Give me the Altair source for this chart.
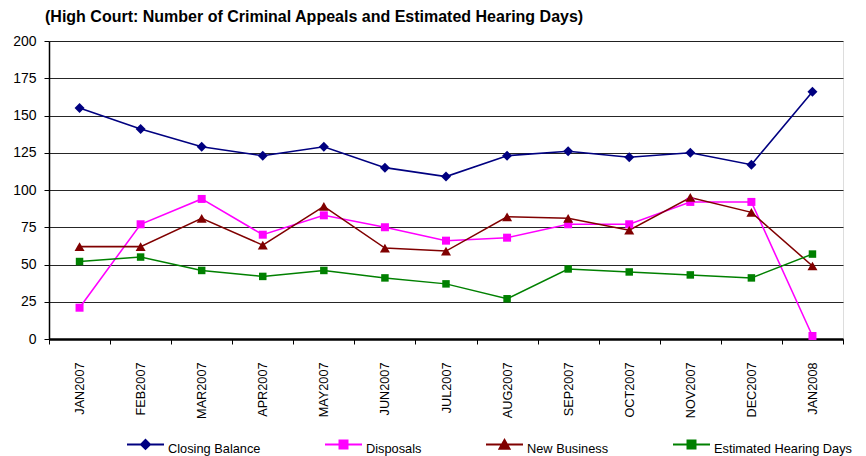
import altair as alt
import pandas as pd

months = ["JAN2007", "FEB2007", "MAR2007", "APR2007", "MAY2007", "JUN2007", "JUL2007",
          "AUG2007", "SEP2007", "OCT2007", "NOV2007", "DEC2007", "JAN2008"]
closing_balance = [155, 141, 129, 123, 129, 115, 109, 123, 126, 122, 125, 117, 166]
disposals = [21, 77, 94, 70, 83, 75, 66, 68, 77, 77, 92, 92, 2]
new_business = [62, 62, 81, 63, 89, 61, 59, 82, 81, 73, 95, 85, 49]
hearing_days = [52, 55, 46, 42, 46, 41, 37, 27, 47, 45, 43, 41, 57]

series_names = ["Closing Balance", "Disposals", "New Business", "Estimated Hearing Days"]
series_values = [closing_balance, disposals, new_business, hearing_days]
series_colors = ["#000080", "#FF00FF", "#800000", "#008000"]
line_widths = [1.6, 1.5, 1.5, 1.0]
point_shapes = ["diamond", "square", "triangle-up", "square"]
point_sizes = [100, 64, 100, 56]

# legend symbols: short line with the marker on it (unit box -1..1)
legend_shapes = [
    "M-1,-0.24H1M0,-0.483L0.243,-0.24L0,0.003L-0.243,-0.24Z",
    "M-1,-0.24H1M-0.216,-0.456H0.216V-0.024H-0.216Z",
    "M-1,-0.24H1M0,-0.48L0.27,0L-0.27,0Z",
    "M-1,-0.24H1M-0.216,-0.456H0.216V-0.024H-0.216Z",
]

rows = []
for name, vals in zip(series_names, series_values):
    for m, v in zip(months, vals):
        rows.append({"month": m, "value": v, "series": name})
df = pd.DataFrame(rows)

FONT = "Liberation Sans"

x_enc = alt.X(
    "month:N",
    sort=months,
    scale=alt.Scale(type="band", paddingInner=0, paddingOuter=0),
    axis=alt.Axis(
        title=None, labelAngle=270, tickBand="extent", tickSize=5, labelPadding=18,
        labelFontSize=12.7, labelFont=FONT, labelColor="#000000",
        domainColor="#000000", domainWidth=2.5, tickColor="#000000", tickWidth=1,
        grid=False,
    ),
)
y_enc = alt.Y(
    "value:Q",
    scale=alt.Scale(domain=[0, 200], nice=False),
    axis=alt.Axis(
        title=None, values=list(range(0, 201, 25)), tickSize=5, labelPadding=8,
        labelFontSize=14, labelFont=FONT, labelColor="#000000",
        domainColor="#000000", domainWidth=1.5, tickColor="#000000", tickWidth=1,
        grid=True, gridColor="#000000", gridWidth=1, gridOpacity=0.85,
    ),
)

color_scale = alt.Scale(domain=series_names, range=series_colors)

lines = alt.Chart(df).mark_line().encode(
    x=x_enc,
    y=y_enc,
    color=alt.Color("series:N", scale=color_scale, legend=None),
    strokeWidth=alt.StrokeWidth("series:N", scale=alt.Scale(domain=series_names, range=line_widths), legend=None),
)

point_layers = []
for name, shp, sz, col in zip(series_names, point_shapes, point_sizes, series_colors):
    point_layers.append(
        alt.Chart(df).transform_filter(alt.datum.series == name)
        .mark_point(filled=True, opacity=1, shape=shp, size=sz, color=col)
        .encode(x=x_enc, y=y_enc)
    )

def make_legend():
    return alt.Legend(
        title=None, orient="none", direction="horizontal", columns=4,
        legendX=77, legendY=388, columnPadding=60, labelOffset=3,
        labelFontSize=12.8, labelFont=FONT, labelColor="#000000",
        symbolSize=1369, symbolStrokeWidth=2, padding=0, symbolOpacity=1,
        labelLimit=300,
    )

legend_layer = alt.Chart(df).mark_point(
    filled=True, opacity=1, size=1369, strokeWidth=2
).encode(
    x=x_enc,
    y=y_enc,
    fill=alt.Fill("series:N", scale=alt.Scale(domain=series_names, range=series_colors), legend=make_legend()),
    stroke=alt.Stroke("series:N", scale=alt.Scale(domain=series_names, range=series_colors), legend=make_legend()),
    shape=alt.Shape("series:N", scale=alt.Scale(domain=series_names, range=legend_shapes), legend=make_legend()),
).transform_filter("datum.value < -1000")

chart = alt.layer(lines, *point_layers, legend_layer).resolve_scale(
    shape="independent", fill="independent", stroke="independent"
).properties(
    width=794,
    height=298,
    autosize=alt.AutoSizeParams(type="none"),
    padding={"left": 41, "top": 33, "right": 15, "bottom": 117},
    title=alt.TitleParams(
        "(High Court: Number of Criminal Appeals and Estimated Hearing Days)",
        anchor="start", frame="group", dx=-4, dy=1, fontSize=16, font=FONT,
        fontWeight="bold", color="#000000", offset=10,
    ),
).configure_view(stroke="#808080", strokeWidth=1.5).configure(background="#ffffff")

chart.save("out.html", embed_options={"renderer": "svg", "actions": False})
